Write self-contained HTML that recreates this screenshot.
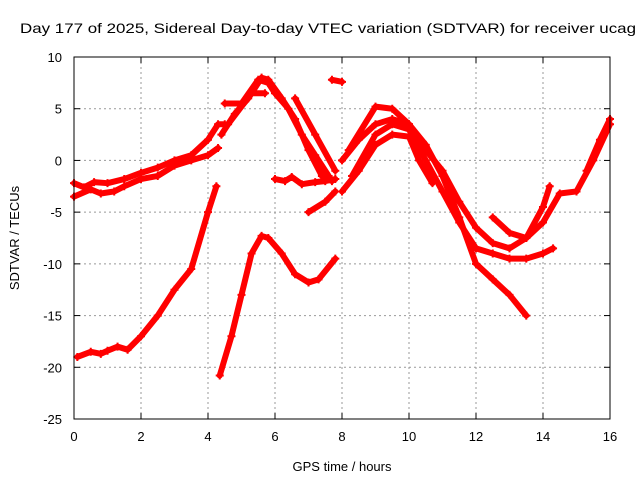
<!DOCTYPE html>
<html><head><meta charset="utf-8"><style>
body{margin:0;background:#fff;font-family:"Liberation Sans",sans-serif}
svg text{font-family:"Liberation Sans",sans-serif;font-size:13px;fill:#000}
</style></head><body>
<svg id="chart" width="640" height="480" viewBox="0 0 640 480">
<rect width="640" height="480" fill="#fff"/>
<g id="grid"></g>
<g id="series"></g>
<rect x="74" y="57" width="536" height="362" fill="none" stroke="#000"/>
<g id="axes"></g>
<text x="20" y="33" style="font-size:14px" textLength="616" lengthAdjust="spacingAndGlyphs">Day 177 of 2025, Sidereal Day-to-day VTEC variation (SDTVAR) for receiver ucag</text>
<text x="342" y="471" text-anchor="middle">GPS time / hours</text>
<text transform="translate(19,238) rotate(-90)" text-anchor="middle">SDTVAR / TECUs</text>
</svg>
<script>
const xTicks=[0,2,4,6,8,10,12,14,16];
const yTicks=[10,5,0,-5,-10,-15,-20,-25];
const track1=[[0.1,-19],[0.5,-18.5],[0.8,-18.7],[1,-18.4],[1.3,-18],[1.6,-18.3],[2,-17],[2.5,-15],[3,-12.5],[3.5,-10.5],[4,-5],[4.25,-2.5]];
const track2=[[4.35,-20.8],[4.7,-17],[5,-13],[5.3,-9],[5.6,-7.3],[5.8,-7.5],[6.2,-9],[6.6,-11],[7,-11.8],[7.3,-11.5],[7.8,-9.5]];
const track3=[[0,-2.2],[0.3,-2.6],[0.6,-2.1],[1,-2.2],[1.5,-1.8],[2,-1.2],[2.5,-0.7],[3,0],[3.5,0.5],[4,2],[4.3,3.5],[4.5,3.5]];
const track4=[[0,-3.5],[0.5,-2.8],[0.8,-3.2],[1.2,-3],[1.5,-2.5],[2,-1.8],[2.5,-1.5],[3,-0.5],[3.5,0],[4,0.5],[4.3,1.2]];
const track5=[[4.4,2.5],[4.8,4.5],[5.2,6],[5.6,8],[5.8,7.8],[6.2,6],[6.6,4],[7,1],[7.4,-1.5],[7.7,-2]];
const track6=[[4.5,5.5],[5,5.5],[5.5,7.8],[5.8,7.5],[6,6.5],[6.4,5],[6.8,2.5],[7.2,0.5],[7.6,-1.5]];
const track7=[[4.6,3.5],[5.3,6.5],[5.7,6.5]];
const track8=[[6.6,6],[7.2,2.5],[7.8,-1]];
const track9=[[6,-1.8],[6.3,-2],[6.5,-1.6],[6.8,-2.3],[7.2,-2.1],[7.5,-2],[7.8,-1.8]];
const track10=[[7,-5],[7.5,-4],[7.8,-3]];
const track11=[[7.7,7.8],[8,7.6]];
const track12=[[8,-3],[8.5,-1],[9,1.5],[9.5,2.5],[10,2.3],[10.3,0],[10.7,-2.2]];
const track13=[[8,0],[8.5,2],[9,3.5],[9.5,4],[10,3.5],[10.5,1],[11,-1],[11.5,-4],[12,-6.5],[12.5,-8],[13,-8.5],[13.5,-7.5],[14,-4.5],[14.2,-2.5]];
const track14=[[8.3,-1.5],[9,2.5],[9.5,3.5],[10,3],[10.5,0],[11,-3],[11.5,-6],[12,-8.5],[12.5,-9],[13,-9.5],[13.5,-9.5],[14,-9],[14.3,-8.5]];
const track15=[[8.2,1],[9,5.2],[9.5,5],[10,3.5],[10.5,1.5],[11,-1.5],[11.5,-5.5],[12,-10],[12.5,-11.5],[13,-13],[13.5,-15]];
const track16=[[12.5,-5.5],[13,-7],[13.5,-7.5],[14,-6],[14.5,-3.2],[15,-3],[15.5,0],[16,3.5]];
const track17=[[15.3,-1],[15.7,2],[16,4]];
const tracks=[track1,track2,track3,track4,track5,track6,track7,track8,track9,track10,track11,track12,track13,track14,track15,track16,track17];
const NS='http://www.w3.org/2000/svg';
const X=h=>74+h*536/16;
const Y=v=>419-(v+25)*362/35;
function mk(t,a,p){const e=document.createElementNS(NS,t);for(const k in a)e.setAttribute(k,a[k]);p.appendChild(e);return e;}
const grid=document.getElementById('grid'),axes=document.getElementById('axes'),ser=document.getElementById('series');
xTicks.forEach(t=>{const x=X(t);
 if(t>0&&t<16){const l=mk('line',{x1:x,y1:57,x2:x,y2:419,stroke:'#999','stroke-dasharray':'2,3'},grid);}
 mk('line',{x1:x,y1:419,x2:x,y2:413,stroke:'#000'},axes);mk('line',{x1:x,y1:57,x2:x,y2:63,stroke:'#000'},axes);
 const tx=mk('text',{x:x,y:441,'text-anchor':'middle'},axes);tx.textContent=t;
 });
yTicks.forEach(t=>{const y=Y(t);
 if(t>-25&&t<10){const l=mk('line',{x1:74,y1:y,x2:610,y2:y,stroke:'#999','stroke-dasharray':'2,3'},grid);}
 mk('line',{x1:74,y1:y,x2:80,y2:y,stroke:'#000'},axes);mk('line',{x1:610,y1:y,x2:604,y2:y,stroke:'#000'},axes);
 const tx=mk('text',{x:62,y:y+5,'text-anchor':'end'},axes);tx.textContent=t;
 });
tracks.forEach((tr,i)=>{
 const pl=mk('polyline',{points:tr.map(p=>X(p[0])+','+Y(p[1])).join(' '),fill:'none',stroke:'#f00','stroke-width':6,'stroke-linejoin':'round','stroke-linecap':'round'},ser);
 
 
 tr.forEach(p=>{const x=X(p[0]),y=Y(p[1]);
  const m=mk('path',{d:`M${x-4},${y}H${x+4}M${x},${y-4}V${y+4}`,stroke:'#f00','stroke-width':2},ser);
  
  });
});
</script>
</body></html>
